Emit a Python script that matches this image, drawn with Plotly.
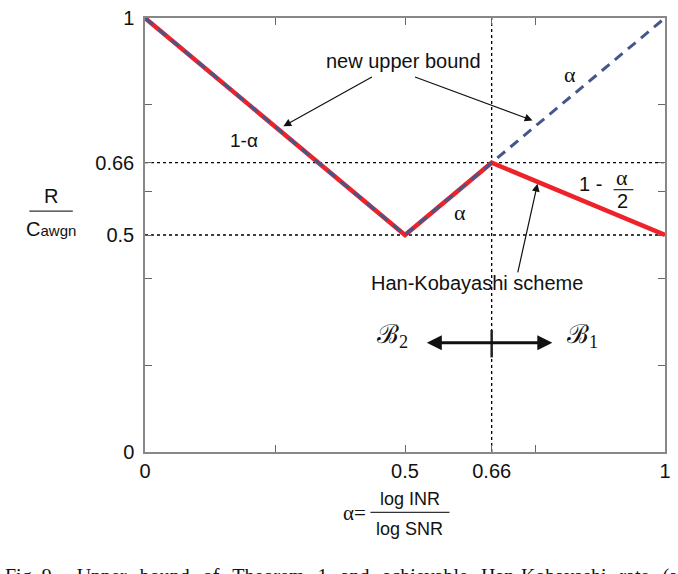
import plotly.graph_objects as go

# data
alpha_hk = [0, 0.5, 2/3, 1]
rate_hk = [1, 0.5, 2/3, 0.5]
alpha_ub = [0, 0.5, 1]
rate_ub = [1, 0.5, 1]
x_tickvals = [0, 0.25, 0.5, 2/3, 0.75, 1]
x_ticktext = ["0", "", "0.5", "0.66", "", "1"]
y_tickvals = [0, 0.2, 0.4, 0.5, 0.6, 2/3, 0.8, 1]
y_ticktext = ["0", "", "", "0.5", "", "0.66", "", "1"]
ref_levels = [0.5, 2/3]
ref_alpha = 2/3
caption_words = ["Upper", "bound", "of", "Theorem", "1", "and", "achievable", "Han-Kobayashi", "rate", "(a"]

W, H = 678, 574
L, R, T, B = 145, 671, 7, 452
def px(x):
    return (x - L) / (R - L)
def py(y):
    return (B - y) / (B - T)

SANS = "Liberation Sans, Arial, sans-serif"
SERIF = "Liberation Serif, Times New Roman, serif"

fig = go.Figure()
fig.add_trace(go.Scatter(x=alpha_hk, y=rate_hk, mode="lines",
                         line=dict(color="#ee2229", width=4.5), hoverinfo="skip"))
fig.add_trace(go.Scatter(x=alpha_ub, y=rate_ub, mode="lines",
                         line=dict(color="#44578c", width=3, dash="10px,7px"), hoverinfo="skip"))

shapes = []
for lv in ref_levels:
    shapes.append(dict(type="line", xref="x", yref="y", x0=0, x1=1, y0=lv, y1=lv,
                       line=dict(color="black", width=1.3, dash="dot"), layer="below"))
shapes.append(dict(type="line", xref="x", yref="paper", x0=ref_alpha, x1=ref_alpha, y0=0, y1=1,
                   line=dict(color="black", width=1.3, dash="dot"), layer="below"))
# vertical tick on double arrow
shapes.append(dict(type="line", xref="x", yref="paper", x0=ref_alpha, x1=ref_alpha,
                   y0=py(355), y1=py(327), line=dict(color="#222", width=2.5)))
# fraction bars
shapes.append(dict(type="line", xref="paper", yref="paper", x0=px(28), x1=px(72), y0=py(205), y1=py(205),
                   line=dict(color="#333", width=1.3)))
shapes.append(dict(type="line", xref="paper", yref="paper", x0=px(373), x1=px(453), y0=py(514), y1=py(514),
                   line=dict(color="#333", width=1.3)))
shapes.append(dict(type="line", xref="paper", yref="paper", x0=px(619), x1=px(639), y0=py(183), y1=py(183),
                   line=dict(color="#333", width=1.3)))

ann = []
def txt(x, y, s, size=20, font=SANS, xanchor="center", yanchor="middle"):
    ann.append(dict(xref="paper", yref="paper", x=px(x), y=py(y), text=s, showarrow=False,
                    font=dict(family=font, size=size, color="#111"), xanchor=xanchor, yanchor=yanchor))

txt(406, 51, "new upper bound")
txt(245, 133, "1-α", size=19)
txt(464, 206, "α", size=22, font=SERIF)
txt(575, 65, "α", size=22, font=SERIF)
txt(596, 177, "1 -", size=20)
txt(628, 171, "α", size=22, font=SERIF)
txt(628, 195, "2", size=20)
txt(481, 279, "Han-Kobayashi scheme")
txt(395, 333, "ℬ<sub>2</sub>", size=26, font=SERIF)
txt(588, 333, "ℬ<sub>1</sub>", size=26, font=SERIF)
txt(50, 189, "R", size=20)
txt(50, 223, "C<span style='font-size:15px'>awgn</span>", size=20)
txt(357, 515, "α=", size=21, font=SERIF)
txt(413, 500, "log INR", size=18)
txt(413, 531, "log SNR", size=18)
caption = "Fig. 9.&nbsp;&nbsp;&nbsp;&nbsp;" + " \u2009\u2009".join(caption_words)
txt(1, 566, caption, size=20, font=SERIF, xanchor="left", yanchor="top")

def arrow(hx, hy, tx, ty, width=1.2, head=2, size=1.3, side="end"):
    ann.append(dict(xref="paper", yref="paper", x=px(hx), y=py(hy), ax=tx - hx, ay=ty - hy,
                    axref="pixel", ayref="pixel", text="", showarrow=True, arrowhead=head,
                    arrowsize=size, arrowwidth=width, arrowcolor="#111", arrowside=side,
                    startarrowhead=head, startarrowsize=size))

arrow(285, 118, 375, 68)
arrow(537, 112, 418, 68)
arrow(542, 177, 522, 267)
arrow(557, 340, 430, 340, width=3, head=2, size=1.0, side="end+start")

axis_common = dict(showline=True, linecolor="#888", linewidth=1.5, mirror="ticks", ticks="inside",
                   ticklen=7, tickcolor="#666", tickwidth=1.3, showgrid=False, zeroline=False,
                   ticklabeloverflow="allow",
                   tickfont=dict(family=SANS, size=20, color="#111"))

fig.update_layout(
    width=W, height=H,
    margin=dict(l=L, r=W - R, t=T, b=H - B),
    paper_bgcolor="white", plot_bgcolor="white",
    showlegend=False,
    xaxis=dict(range=[0, 1], tickvals=x_tickvals, ticktext=x_ticktext, **axis_common),
    yaxis=dict(range=[0, 1], tickvals=y_tickvals, ticktext=y_ticktext, ticklabelstandoff=5, **axis_common),
    shapes=shapes, annotations=ann,
)
fig.write_html("out.html", config={"displayModeBar": False},
               post_script="document.body.style.margin='0';document.body.style.overflow='hidden';")
